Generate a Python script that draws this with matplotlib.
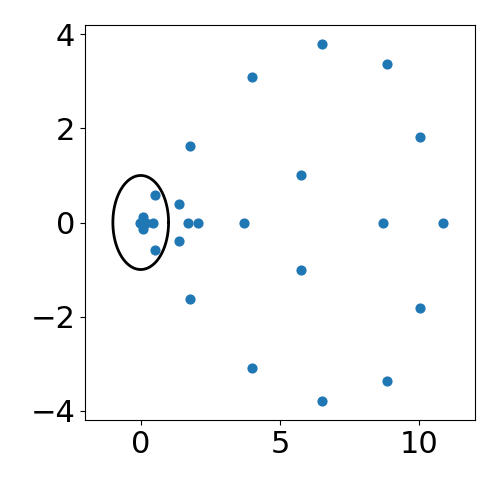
import numpy as np
import matplotlib.pyplot as plt

re_vals = [6.49, 8.85, 4.01, 10.04, 1.76, 5.77, 1.36, 0.50, 0.07, 0.04, -0.03, 0.20, 0.43,
           1.70, 2.05, 3.69, 8.71, 10.86,
           6.49, 8.85, 4.01, 10.04, 1.76, 5.77, 1.36, 0.50, 0.07]
im_vals = [3.80, 3.37, 3.09, 1.82, 1.63, 1.01, 0.39, 0.58, 0.11, 0.00, 0.00, 0.00, 0.00,
           0.00, 0.00, 0.00, 0.00, 0.00,
           -3.80, -3.37, -3.09, -1.82, -1.63, -1.01, -0.39, -0.58, -0.13]

# unit circle
theta = np.linspace(0, 2 * np.pi, 400)

fig = plt.figure(figsize=(5, 5), dpi=100)
ax = fig.add_axes([0.17, 0.16, 0.78, 0.79])
ax.plot(np.cos(theta), np.sin(theta), color='black', linewidth=2)
ax.scatter(re_vals, im_vals, color='#1f77b4', s=40, zorder=3)

ax.set_xlim(-2, 12)
ax.set_ylim(-4.2, 4.2)
ax.set_xticks([0, 5, 10])
ax.set_yticks([-4, -2, 0, 2, 4])
ax.tick_params(labelsize=22)

plt.savefig("out.png")
